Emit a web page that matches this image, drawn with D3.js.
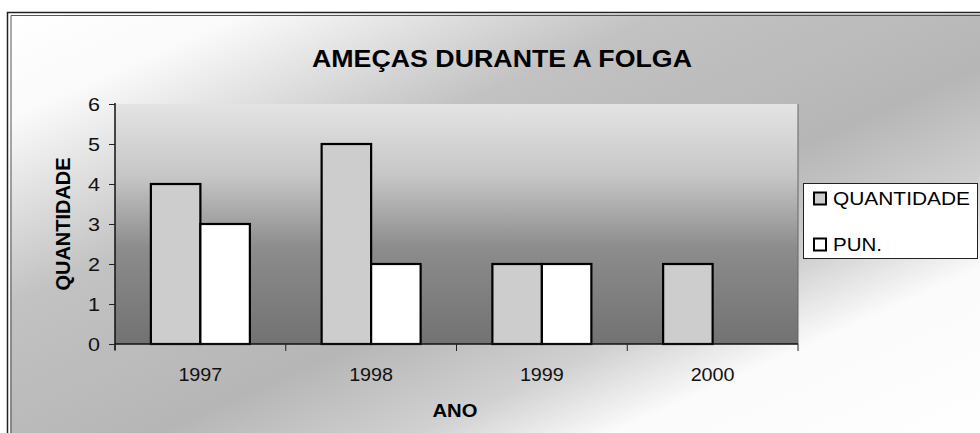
<!DOCTYPE html>
<html>
<head>
<meta charset="utf-8">
<script src="https://cdn.jsdelivr.net/npm/d3@7"></script>
<style>
  body { margin: 0; background: #ffffff; }
  svg { display: block; font-family: "Liberation Sans", Arial, sans-serif; }
</style>
</head>
<body>
<div id="plot"></div>
<script>
// data
var years = ["1997", "1998", "1999", "2000"];
var quantidade = [4, 5, 2, 2];
var pun = [3, 2, 2, 0];
var seriesNames = ["QUANTIDADE", "PUN."];
var yTicks = [0, 1, 2, 3, 4, 5, 6];

var W = 980, H = 433;
var plot = {left: 115, right: 798, top: 104, bottom: 344};

var svg = d3.select("#plot").append("svg")
    .attr("width", W)
    .attr("height", H);

var defs = svg.append("defs");

// chart area: white - gray - white, diagonal
var gArea = defs.append("linearGradient")
    .attr("id", "areaGrad")
    .attr("x1", 0).attr("y1", 0).attr("x2", 1).attr("y2", 1);
gArea.append("stop").attr("offset", 0.0).attr("stop-color", "#ffffff");
gArea.append("stop").attr("offset", 0.12).attr("stop-color", "#fafafa");
gArea.append("stop").attr("offset", 0.33).attr("stop-color", "#c2c2c2");
gArea.append("stop").attr("offset", 0.55).attr("stop-color", "#b6b6b6");
gArea.append("stop").attr("offset", 0.68).attr("stop-color", "#d0d0d0");
gArea.append("stop").attr("offset", 0.78).attr("stop-color", "#fbfbfb");
gArea.append("stop").attr("offset", 1.0).attr("stop-color", "#ffffff");

// plot area: light on top, dark at the bottom
var gPlot = defs.append("linearGradient")
    .attr("id", "plotGrad")
    .attr("x1", 0).attr("y1", 0).attr("x2", 0).attr("y2", 1);
gPlot.append("stop").attr("offset", 0.0).attr("stop-color", "#e4e4e4");
gPlot.append("stop").attr("offset", 0.3).attr("stop-color", "#c6c6c6");
gPlot.append("stop").attr("offset", 0.6).attr("stop-color", "#8c8c8c");
gPlot.append("stop").attr("offset", 1.0).attr("stop-color", "#727272");

//Chart area background and its double frame
svg.append("rect")
    .attr("x", 10).attr("y", 14)
    .attr("width", 990).attr("height", 440)
    .attr("fill", "url(#areaGrad)");

svg.append("path")
    .attr("d", "M7.5," + (H + 5) + "V12.5H" + (W + 5))
    .attr("fill", "none")
    .attr("stroke", "#222")
    .attr("stroke-width", 1.5);
svg.append("path")
    .attr("d", "M11," + (H + 5) + "V15.5H" + (W + 5))
    .attr("fill", "none")
    .attr("stroke", "#555")
    .attr("stroke-width", 1);

//Plot area
svg.append("rect")
    .attr("x", plot.left).attr("y", plot.top)
    .attr("width", plot.right - plot.left)
    .attr("height", plot.bottom - plot.top)
    .attr("fill", "url(#plotGrad)");
svg.append("line")
    .attr("x1", plot.right).attr("x2", plot.right)
    .attr("y1", plot.top).attr("y2", plot.bottom)
    .attr("stroke", "#666")
    .attr("stroke-width", 1);

//Title
svg.append("text")
    .attr("x", 502)
    .attr("y", 67)
    .attr("text-anchor", "middle")
    .attr("textLength", 380)
    .attr("lengthAdjust", "spacingAndGlyphs")
    .style("font-size", "23px")
    .style("font-weight", "bold")
    .text("AMEÇAS DURANTE A FOLGA");

//Scales
var x = d3.scaleBand()
    .domain(years)
    .range([plot.left, plot.right])
    .padding(0);

var xSub = d3.scaleBand()
    .domain(seriesNames)
    .range([0, x.bandwidth()])
    .paddingInner(0)
    .paddingOuter(0.725);

var y = d3.scaleLinear()
    .domain([0, 6])
    .range([plot.bottom, plot.top]);

var fills = {"QUANTIDADE": "#cdcdcd", "PUN.": "#ffffff"};

//Bars
var rows = years.map(function(yr, i) {
    return {year: yr, values: [
        {name: seriesNames[0], value: quantidade[i]},
        {name: seriesNames[1], value: pun[i]}
    ]};
});

svg.append("g")
    .selectAll("g")
    .data(rows)
    .enter()
    .append("g")
    .attr("transform", function(d) { return "translate(" + x(d.year) + ",0)"; })
    .selectAll("rect")
    .data(function(d) { return d.values.filter(function(v) { return v.value > 0; }); })
    .enter()
    .append("rect")
    .attr("x", function(d) { return xSub(d.name); })
    .attr("y", function(d) { return y(d.value); })
    .attr("width", xSub.bandwidth())
    .attr("height", function(d) { return y(0) - y(d.value); })
    .attr("fill", function(d) { return fills[d.name]; })
    .attr("stroke", "#000")
    .attr("stroke-width", 2.2);

//Y axis
var yAxis = svg.append("g")
    .attr("transform", "translate(" + plot.left + ",0)")
    .call(d3.axisLeft(y).tickValues(yTicks).tickSize(6).tickPadding(9).tickFormat(d3.format("d")));
yAxis.select(".domain")
    .attr("stroke", "#111")
    .attr("stroke-width", 1.5)
    .attr("d", "M0," + (plot.top - 1) + "V" + (plot.bottom + 6));
yAxis.selectAll(".tick line").attr("stroke", "#222");
yAxis.selectAll(".tick text")
    .attr("fill", "#111")
    .attr("dy", "0.36em")
    .style("font-size", "19px")
    .style("font-family", "Liberation Sans, Arial, sans-serif")
    .attr("textLength", 12)
    .attr("lengthAdjust", "spacingAndGlyphs");

//X axis with ticks on the category boundaries
var bounds = years.map(function(d) { return x(d); }).concat([plot.right]);
var xAxis = svg.append("g")
    .attr("transform", "translate(0," + plot.bottom + ")")
    .call(d3.axisBottom(x).tickSize(0).tickPadding(24));
xAxis.select(".domain")
    .attr("stroke", "#111")
    .attr("stroke-width", 1.5)
    .attr("d", "M" + plot.left + ",0H" + plot.right);
xAxis.selectAll(".tick text")
    .attr("fill", "#111")
    .style("font-size", "19px")
    .style("font-family", "Liberation Sans, Arial, sans-serif")
    .attr("textLength", 44)
    .attr("lengthAdjust", "spacingAndGlyphs");
xAxis.append("g")
    .selectAll("line")
    .data(bounds)
    .enter()
    .append("line")
    .attr("x1", function(d) { return d; })
    .attr("x2", function(d) { return d; })
    .attr("y1", 0)
    .attr("y2", 7)
    .attr("stroke", "#222")
    .attr("stroke-width", 1);

//Axis titles
svg.append("text")
    .attr("x", 455)
    .attr("y", 417)
    .attr("text-anchor", "middle")
    .style("font-size", "18px")
    .style("font-weight", "bold")
    .attr("textLength", 45)
    .attr("lengthAdjust", "spacingAndGlyphs")
    .text("ANO");

svg.append("text")
    .attr("transform", "translate(70,224) rotate(-90)")
    .attr("text-anchor", "middle")
    .style("font-size", "21px")
    .style("font-weight", "bold")
    .attr("textLength", 133)
    .attr("lengthAdjust", "spacingAndGlyphs")
    .text("QUANTIDADE");

//Legend
var legend = svg.append("g");
legend.append("rect")
    .attr("x", 803.5).attr("y", 183.5)
    .attr("width", 174).attr("height", 75)
    .attr("fill", "#ffffff")
    .attr("stroke", "#222")
    .attr("stroke-width", 1);

var items = legend.selectAll("g.item")
    .data(seriesNames)
    .enter()
    .append("g")
    .attr("class", "item")
    .attr("transform", function(d, i) { return "translate(0," + (i * 46) + ")"; });
items.append("rect")
    .attr("x", 814).attr("y", 192.5)
    .attr("width", 12).attr("height", 12)
    .attr("fill", function(d) { return fills[d]; })
    .attr("stroke", "#000")
    .attr("stroke-width", 2);
items.append("text")
    .attr("x", 833)
    .attr("y", 205)
    .style("font-size", "18px")
    .attr("textLength", function(d) { return d === "PUN." ? 49 : 137; })
    .attr("lengthAdjust", "spacingAndGlyphs")
    .text(function(d) { return d; });
</script>
</body>
</html>
